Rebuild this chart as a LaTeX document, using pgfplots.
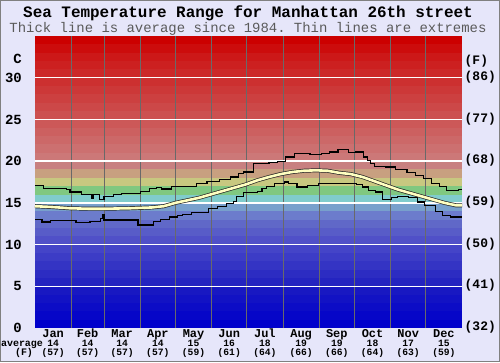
\documentclass[border=0pt]{standalone}
\usepackage{pgfplots}
\pgfplotsset{compat=1.18}
\usepackage{pgfplotstable}
\usepackage{fontspec}
\setmainfont{Liberation Sans}
\setmonofont{Liberation Mono}
\definecolor{bg}{RGB}{230,230,250}
\definecolor{subgray}{RGB}{90,90,90}
\definecolor{gridgray}{RGB}{105,105,105}
\definecolor{avgyellow}{RGB}{255,255,192}
\definecolor{band0}{RGB}{0,0,204}
\definecolor{band1}{RGB}{6,6,200}
\definecolor{band2}{RGB}{12,12,198}
\definecolor{band3}{RGB}{18,18,196}
\definecolor{band4}{RGB}{24,24,194}
\definecolor{band5}{RGB}{36,36,192}
\definecolor{band6}{RGB}{44,44,194}
\definecolor{band7}{RGB}{52,52,196}
\definecolor{band8}{RGB}{60,60,198}
\definecolor{band9}{RGB}{68,68,200}
\definecolor{band10}{RGB}{80,80,200}
\definecolor{band11}{RGB}{88,92,200}
\definecolor{band12}{RGB}{96,104,200}
\definecolor{band13}{RGB}{108,124,204}
\definecolor{band14}{RGB}{120,160,204}
\definecolor{band15}{RGB}{128,204,204}
\definecolor{band16}{RGB}{128,200,128}
\definecolor{band17}{RGB}{200,200,128}
\definecolor{band18}{RGB}{200,160,128}
\definecolor{band19}{RGB}{200,128,128}
\definecolor{band20}{RGB}{204,120,120}
\definecolor{band21}{RGB}{204,112,112}
\definecolor{band22}{RGB}{204,104,104}
\definecolor{band23}{RGB}{204,96,96}
\definecolor{band24}{RGB}{204,88,88}
\definecolor{band25}{RGB}{204,80,80}
\definecolor{band26}{RGB}{204,72,72}
\definecolor{band27}{RGB}{204,64,64}
\definecolor{band28}{RGB}{204,56,56}
\definecolor{band29}{RGB}{204,48,48}
\definecolor{band30}{RGB}{204,40,40}
\definecolor{band31}{RGB}{204,32,32}
\definecolor{band32}{RGB}{204,24,24}
\definecolor{band33}{RGB}{204,12,12}
\definecolor{band34}{RGB}{204,0,0}
\newcommand{\mfont}[1]{\fontsize{#1}{#1}\selectfont\ttfamily\bfseries}
\newcommand{\mlab}[4]{%
  \node[anchor=base, yshift=-9.4bp, font=\mfont{12}, inner sep=0pt] at (axis cs:#1,0) {#2};
  \node[anchor=base, yshift=-18bp, font=\mfont{9.7}, inner sep=0pt] at (axis cs:#1,0) {#3};
  \node[anchor=base, yshift=-27bp, font=\mfont{9.7}, inner sep=0pt] at (axis cs:#1,0) {(#4)};
}
\pgfplotstableread{
d T
0 14.6
15 14.5
30 14.35
45 14.3
60 14.3
80 14.35
100 14.45
110 14.6
120 15.0
130 15.3
140 15.6
150 16.0
160 16.4
170 16.8
180 17.2
190 17.7
200 18.1
210 18.45
220 18.7
230 18.85
240 18.9
250 18.85
260 18.6
270 18.45
280 18.1
290 17.6
300 17.1
310 16.6
320 16.2
330 15.8
340 15.4
350 15.0
360 14.7
365 14.7
}\avgdata
\pgfplotstableread{
d T
0 17.05
7 16.75
27 16.6
30 16.3
40 16.05
48 15.5
49.5 16.0
55 15.45
59 15.75
67 16.0
74 16.1
90 16.4
98 16.7
104 16.85
108 16.65
117 16.95
126 17.0
138 17.35
147 17.6
158 17.8
167 18.1
174 18.5
178 18.7
187 19.7
200 19.85
207 20.0
214 20.5
222 20.9
235 20.8
245 20.9
252 21.1
259 21.4
268 21.0
274 21.1
281 20.5
284 20.1
287 19.7
290 19.4
300 19.3
308 19.0
318 18.6
325 18.3
332 17.9
339 17.3
346 17.0
352 16.5
362 16.6
365 16.6
}\updata
\pgfplotstableread{
d T
0 13.0
6 12.7
13 12.85
35 12.6
47 12.8
56 13.1
57.5 13.6
59 12.95
88 12.35
101 12.8
107 13.0
115 13.3
122 13.5
126 13.6
134 13.8
148 14.3
156 14.6
164 14.9
170 15.2
172 15.8
178 16.2
190 16.4
194 16.7
198 17.0
205 17.3
213 17.5
217 17.3
224 16.9
233 17.1
242 17.3
275 17.2
280 16.9
285 16.5
291 16.3
297 15.4
305 15.6
310 15.8
319 15.6
327 15.1
333 14.7
342 14.0
348 13.5
355 13.3
365 13.3
}\lowdata
\begin{document}
\begin{tikzpicture}[x=1bp,y=1bp]
\useasboundingbox (-35,-34) rectangle (465,328);
\fill[bg] (-35,-34) rectangle (465,328);
\draw[gray, line width=0.8bp] (-34.6,-33.6) rectangle (464.6,327.6);
\node[anchor=base, font=\mfont{16}, inner sep=0pt] at (213,310.8) {Sea Temperature Range for Manhattan 26th street};
\node[anchor=base, font=\fontsize{14}{14}\selectfont\ttfamily, text=subgray, inner sep=0pt] at (213,296) {Thick line is average since 1984. Thin lines are extremes};
\begin{axis}[
  at={(0,0)}, anchor=south west,
  scale only axis, width=427bp, height=292bp,
  xmin=0, xmax=365, ymin=0, ymax=35,
  clip=false,
  axis line style={draw=none},
  major tick length=0pt,
  xtick=\empty,
  ytick={0,5,...,30},
  /pgf/number format/assume math mode=true,
  yticklabel style={font=\mfont{14}, anchor=east, inner sep=0pt, xshift=-13bp},
]
\pgfplotsinvokeforeach{0,...,34}{
  \fill[band#1] (axis cs:0,#1) rectangle (axis cs:365,35);
}
\pgfplotsinvokeforeach{31,59,90,120,151,181,212,243,273,304,334}{
  \draw[gridgray, line width=1bp] (axis cs:#1,0) -- (axis cs:#1,35);
}
\pgfplotsinvokeforeach{5,10,15,20,25,30}{
  \draw[white, line width=1.3bp] (axis cs:0,#1) -- (axis cs:365,#1);
}
\addplot[const plot, black, line width=1.2bp, mark=none] table[x=d,y=T] {\updata};
\addplot[const plot, black, line width=1.2bp, mark=none] table[x=d,y=T] {\lowdata};
\addplot[black!85, line width=4bp, mark=none] table[x=d,y=T] {\avgdata};
\addplot[avgyellow, line width=2.6bp, mark=none] table[x=d,y=T] {\avgdata};
\mlab{15.5}{Jan}{14}{57}
\mlab{45}{Feb}{14}{57}
\mlab{74.5}{Mar}{14}{57}
\mlab{105}{Apr}{14}{57}
\mlab{135.5}{May}{15}{59}
\mlab{166}{Jun}{16}{61}
\mlab{196.5}{Jul}{18}{64}
\mlab{227.5}{Aug}{19}{66}
\mlab{258}{Sep}{19}{66}
\mlab{288.5}{Oct}{18}{64}
\mlab{319}{Nov}{17}{63}
\mlab{349.5}{Dec}{15}{59}
\node[anchor=base, xshift=-13bp, yshift=-18bp, font=\mfont{10}, inner sep=0pt] at (axis cs:0,0) {average};
\node[anchor=base, xshift=-11bp, yshift=-27bp, font=\mfont{10}, inner sep=0pt] at (axis cs:0,0) {(F)};
\node[anchor=mid east, xshift=-13bp, yshift=267bp, font=\mfont{14}, inner sep=0pt] at (axis cs:0,0) {C};
\node[anchor=mid west, xshift=2.5bp, yshift=266bp, font=\mfont{13}, inner sep=0pt] at (axis cs:365,0) {(F)};
\node[anchor=mid west, xshift=2.5bp, font=\mfont{13}, inner sep=0pt] at (axis cs:365,0) {(32)};
\node[anchor=mid west, xshift=2.5bp, font=\mfont{13}, inner sep=0pt] at (axis cs:365,5) {(41)};
\node[anchor=mid west, xshift=2.5bp, font=\mfont{13}, inner sep=0pt] at (axis cs:365,10) {(50)};
\node[anchor=mid west, xshift=2.5bp, font=\mfont{13}, inner sep=0pt] at (axis cs:365,15) {(59)};
\node[anchor=mid west, xshift=2.5bp, font=\mfont{13}, inner sep=0pt] at (axis cs:365,20) {(68)};
\node[anchor=mid west, xshift=2.5bp, font=\mfont{13}, inner sep=0pt] at (axis cs:365,25) {(77)};
\node[anchor=mid west, xshift=2.5bp, font=\mfont{13}, inner sep=0pt] at (axis cs:365,30) {(86)};
\end{axis}
\end{tikzpicture}
\end{document}
